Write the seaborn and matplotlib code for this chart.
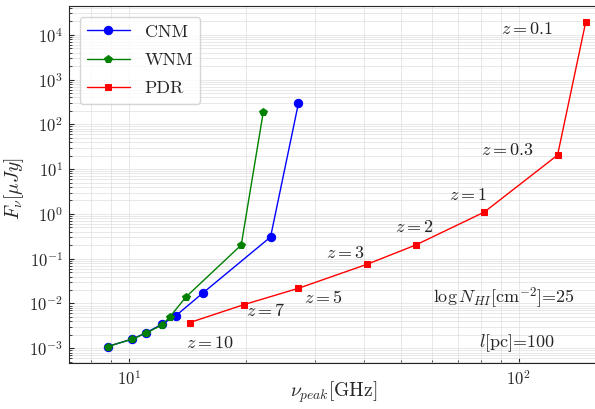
import matplotlib
matplotlib.use("Agg")
import matplotlib.pyplot as plt
import seaborn as sns

# peak frequency [GHz] and flux [uJy] per phase
cnm_nu = [8.81, 10.2, 11.04, 12.14, 13.19, 15.5, 23.07, 27.2]
cnm_flux = [1.09e-3, 1.61e-3, 2.2e-3, 3.43e-3, 5.35e-3, 1.74e-2, 0.305, 294]

wnm_nu = [8.81, 10.2, 11.04, 12.14, 12.7, 14.0, 19.4, 22.1]
wnm_flux = [1.09e-3, 1.6e-3, 2.16e-3, 3.3e-3, 4.92e-3, 1.4e-2, 0.202, 188]

pdr_nu = [14.3, 19.7, 27.2, 40.8, 54.4, 81.6, 125.8, 148.5]
pdr_flux = [3.73e-3, 9.4e-3, 2.18e-2, 7.5e-2, 0.202, 1.10, 20.6, 1.9e4]

# redshift labels and where they sit
z_labels = ["0.1", "0.3", "1", "2", "3", "5", "7", "10"]
z_label_x = [90.2, 80.2, 66.3, 48.1, 32.0, 28.1, 20.0, 14.0]
z_label_y = [1.34e4, 26.7, 2.64, 0.51, 0.134, 1.33e-2, 6.8e-3, 1.31e-3]

sns.set_style("ticks")
plt.rcParams["font.family"] = "serif"
plt.rcParams["font.serif"] = ["cmr10", "DejaVu Serif"]
plt.rcParams["mathtext.fontset"] = "cm"
plt.rcParams["axes.formatter.use_mathtext"] = True

fig = plt.figure(figsize=(5.95, 4.09), dpi=100)
ax = fig.add_axes([0.1155, 0.1117, 0.89, 0.8735])

sns.lineplot(x=cnm_nu, y=cnm_flux, ax=ax, color="blue", marker="o", markersize=6,
             markeredgecolor="blue", linewidth=1, label="CNM", sort=False, estimator=None)
sns.lineplot(x=wnm_nu, y=wnm_flux, ax=ax, color="green", marker="p", markersize=6,
             markeredgecolor="green", linewidth=1, label="WNM", sort=False, estimator=None)
sns.lineplot(x=pdr_nu, y=pdr_flux, ax=ax, color="red", marker="s", markersize=5,
             markeredgecolor="red", linewidth=1, label="PDR", sort=False, estimator=None)

ax.set_xscale("log")
ax.set_yscale("log")
ax.set_xlim(7.0, 160)
ax.set_ylim(4.6e-4, 4.4e4)
ax.grid(True, which="both", color="#dddddd", linewidth=0.6, alpha=0.8)
ax.tick_params(which="both", direction="in", labelsize=12, pad=4)
ax.tick_params(which="major", length=3.5)
ax.tick_params(which="minor", length=2)

for lab, tx, ty in zip(z_labels, z_label_x, z_label_y):
    ax.text(tx, ty, r"$z=" + lab + "$", fontsize=13, ha="left", va="center", color="#222222")

ax.text(60.3, 1.33e-2, r"$\log N_{HI}[\mathrm{cm}^{-2}]$=25", fontsize=13, ha="left", va="center")
ax.text(79.2, 1.31e-3, r"$l$[pc]=100", fontsize=13, ha="left", va="center")

ax.set_xlabel(r"$\nu_{peak}$[GHz]", fontsize=14)
ax.set_ylabel(r"$F_{\nu}[\mu Jy]$", fontsize=14)
ax.xaxis.set_label_coords(0.5, -0.045)
ax.yaxis.set_label_coords(-0.08, 0.49)

ax.legend(loc="upper left", fontsize=13, fancybox=True, framealpha=0.8,
          labelspacing=0.7, handlelength=2.4, borderaxespad=0.6)

fig.savefig("out.png", dpi=100)
